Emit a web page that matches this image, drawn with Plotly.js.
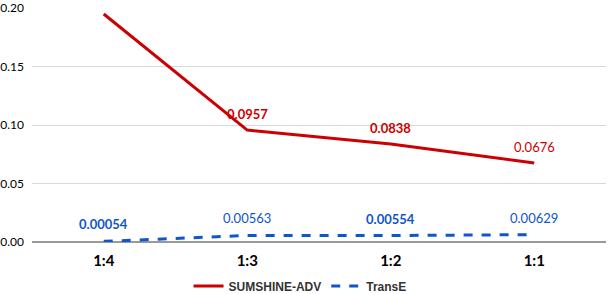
<!DOCTYPE html>
<html>
<head>
<meta charset="utf-8">
<script src="https://cdn.plot.ly/plotly-3.0.1.min.js"></script>
<style>html,body{margin:0;padding:0;background:#fff;}#chart{width:608px;height:294px;}</style>
</head>
<body>
<div id="chart"></div>
<script>
const categories = ["1:4", "1:3", "1:2", "1:1"];
const sunshineValues = [0.195, 0.0957, 0.0838, 0.0676];
const sunshineLabels = ["", "<b>0.0957</b>", "<b>0.0838</b>", "0.0676"];
const transeValues = [0.00054, 0.00563, 0.00554, 0.00629];
const transeLabels = ["<b>0.00054</b>", "0.00563", "<b>0.00554</b>", "0.00629"];
const yTicks = [0, 0.05, 0.10, 0.15, 0.20];

const RED = "#cc0000", BLUE = "#1155cc";
const labelFont = "Lato, 'Liberation Sans', sans-serif";

const traces = [
  {
    x: categories, y: sunshineValues, name: "SUMSHINE-ADV",
    type: "scatter", mode: "lines",
    line: {color: RED, width: 3}
  },
  {
    x: categories, y: transeValues, name: "TransE",
    type: "scatter", mode: "lines",
    line: {color: BLUE, width: 3, dash: "dash"}
  }
];

const annotations = [];
function addLabels(values, labels, color, shift) {
  values.forEach((v, i) => {
    if (!labels[i]) return;
    annotations.push({
      x: categories[i], y: v, xref: "x", yref: "y",
      text: labels[i], showarrow: false, yshift: shift,
      font: {family: labelFont, size: 13, color: color}
    });
  });
}
addLabels(sunshineValues, sunshineLabels, RED, 16);
addLabels(transeValues, transeLabels, BLUE, 17);

const layout = {
  width: 608, height: 294,
  margin: {l: 32, r: 2, t: 8, b: 52},
  paper_bgcolor: "#ffffff", plot_bgcolor: "#ffffff",
  showlegend: true,
  annotations: annotations,
  legend: {
    orientation: "h", x: 0.467, xanchor: "center",
    yref: "container", y: 0.027, yanchor: "middle",
    font: {family: "'Liberation Sans', Arial, sans-serif", size: 12, color: "#333333", weight: "bold"},
    itemwidth: 30, traceorder: "normal"
  },
  xaxis: {
    type: "category", range: [-0.5, 3.5], fixedrange: true,
    showgrid: false, zeroline: false, showline: false, ticks: "",
    ticklabelstandoff: 8,
    tickfont: {family: labelFont, size: 15, color: "#000000", weight: "bold"}
  },
  yaxis: {
    range: [0, 0.2001], tickvals: yTicks, tickformat: ".2f",
    showgrid: true, gridcolor: "#d9d9d9", gridwidth: 1,
    zeroline: true, zerolinecolor: "#999999", zerolinewidth: 2,
    showline: false, ticks: "", ticklabelstandoff: 7,
    ticklabeloverflow: "allow",
    tickfont: {family: labelFont, size: 12, color: "#000000"}
  }
};

Plotly.newPlot("chart", traces, layout, {displayModeBar: false, staticPlot: true});
</script>
</body>
</html>
